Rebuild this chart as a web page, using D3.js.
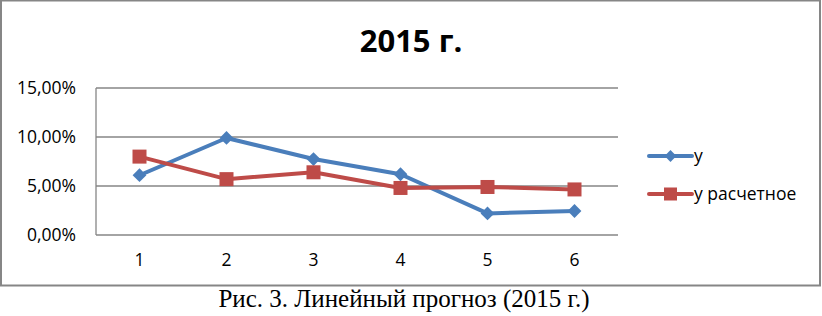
<!DOCTYPE html>
<html>
<head>
<meta charset="utf-8">
<script src="https://cdn.jsdelivr.net/npm/d3@7"></script>
<style>
  body { margin: 0; background: #fff; }
  svg { display: block; }
</style>
</head>
<body>
<svg width="822" height="316"></svg>
<script>
// Data
const categories = ["1", "2", "3", "4", "5", "6"];
const yActual = [0.061, 0.099, 0.0775, 0.062, 0.022, 0.0245];
const yForecast = [0.080, 0.057, 0.064, 0.048, 0.049, 0.0465];
const yTicks = [0, 0.05, 0.10, 0.15];
const seriesNames = ["y", "y расчетное"];
const colors = ["#4a7ebb", "#be4b48"];

const svg = d3.select("svg");
const margin = { top: 88, right: 204, bottom: 81, left: 96 };
const width = 822, height = 316;
const innerWidth = width - margin.left - margin.right;
const innerHeight = height - margin.top - margin.bottom;
const labelFont = "'Open Sans', sans-serif";
const labelSize = 17.5;

// Outer chart frame
svg.append("rect")
    .attr("x", 1).attr("y", 0.5)
    .attr("width", 819).attr("height", 285)
    .attr("fill", "#fff")
    .attr("stroke", "#868686")
    .attr("stroke-width", 2);

// Title
svg.append("text")
    .attr("x", 411).attr("y", 52)
    .attr("text-anchor", "middle")
    .attr("font-family", labelFont)
    .attr("font-weight", "bold")
    .attr("font-size", 31)
    .attr("fill", "#000")
    .text("2015 г.");

const g = svg.append("g")
    .attr("transform", `translate(${margin.left},${margin.top})`);

// Scales
const x = d3.scaleBand().domain(categories).range([0, innerWidth]);
const y = d3.scaleLinear().domain([0, 0.15]).range([innerHeight, 0]);
const fmt = v => d3.format(".2f")(v * 100).replace(".", ",") + "%";

// Gridlines
g.append("g")
    .selectAll("line")
    .data(yTicks)
    .join("line")
    .attr("x1", 0).attr("x2", innerWidth)
    .attr("y1", d => y(d)).attr("y2", d => y(d))
    .attr("stroke", "#868686")
    .attr("stroke-width", 1.3);

// Left border of plot area
g.append("line")
    .attr("x1", 0).attr("x2", 0)
    .attr("y1", 0).attr("y2", innerHeight)
    .attr("stroke", "#868686")
    .attr("stroke-width", 1.3);

// Y axis labels
const yAxis = g.append("g")
    .call(d3.axisLeft(y).tickValues(yTicks).tickFormat(fmt).tickSize(0).tickPadding(20));
yAxis.select(".domain").remove();
yAxis.attr("font-family", labelFont).attr("font-size", labelSize);
yAxis.selectAll("text").attr("fill", "#000");

// X axis labels
const xAxis = g.append("g")
    .attr("transform", `translate(0,${innerHeight})`)
    .call(d3.axisBottom(x).tickSize(0).tickPadding(19));
xAxis.select(".domain").remove();
xAxis.attr("font-family", labelFont).attr("font-size", labelSize);
xAxis.selectAll("text").attr("fill", "#000");

const cx = d => x(d) + x.bandwidth() / 2;
const line = d3.line()
    .x((d, i) => cx(categories[i]))
    .y(d => y(d));

// Series lines
[yActual, yForecast].forEach((vals, k) => {
    g.append("path")
        .datum(vals)
        .attr("fill", "none")
        .attr("stroke", colors[k])
        .attr("stroke-width", 4)
        .attr("stroke-linejoin", "round")
        .attr("d", line);
});

// Markers
g.append("g")
    .selectAll("path")
    .data(yActual)
    .join("path")
    .attr("transform", (d, i) => `translate(${cx(categories[i])},${y(d)}) rotate(45)`)
    .attr("d", d3.symbol().type(d3.symbolSquare).size(95))
    .attr("fill", colors[0]);

g.append("g")
    .selectAll("rect")
    .data(yForecast)
    .join("rect")
    .attr("x", (d, i) => cx(categories[i]) - 7)
    .attr("y", d => y(d) - 7)
    .attr("width", 14).attr("height", 14)
    .attr("fill", colors[1]);

// Legend
const legend = svg.append("g");
const legendY = [156, 194];
seriesNames.forEach((name, k) => {
    const lg = legend.append("g").attr("transform", `translate(649,${legendY[k]})`);
    lg.append("line")
        .attr("x1", 0).attr("x2", 43)
        .attr("stroke", colors[k])
        .attr("stroke-width", 4)
        .attr("stroke-linecap", "round");
    if (k === 0) {
        lg.append("path")
            .attr("transform", "translate(21.5,0) rotate(45)")
            .attr("d", d3.symbol().type(d3.symbolSquare).size(70))
            .attr("fill", colors[k]);
    } else {
        lg.append("rect")
            .attr("x", 15).attr("y", -6.5).attr("width", 13).attr("height", 13)
            .attr("fill", colors[k]);
    }
    lg.append("text")
        .attr("x", 45).attr("y", 0)
        .attr("dy", "0.35em")
        .attr("font-family", labelFont)
        .attr("font-size", labelSize)
        .attr("fill", "#000")
        .text(name);
});

// Caption
svg.append("text")
    .attr("x", 404).attr("y", 307)
    .attr("text-anchor", "middle")
    .attr("font-family", "'Liberation Serif', 'Times New Roman', serif")
    .attr("font-size", 25)
    .attr("fill", "#000")
    .text("Рис. 3. Линейный прогноз (2015 г.)");
</script>
</body>
</html>
